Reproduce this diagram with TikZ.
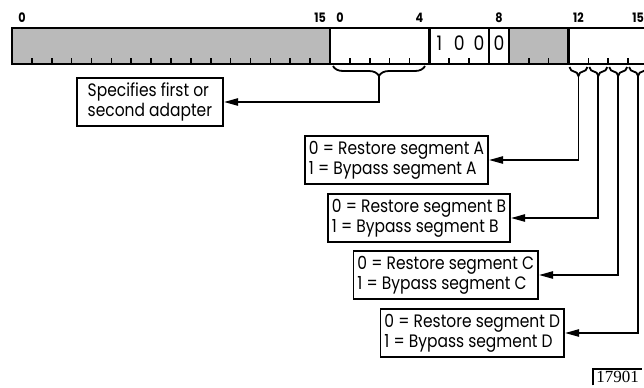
\documentclass[tikz,border=0pt]{standalone}
\usepackage{fontspec}
\setmainfont{Poppins}[FakeStretch=0.86]
\newfontfamily\fignofont{Liberation Serif}
\usetikzlibrary{arrows.meta, decorations.pathreplacing}
\newcommand{\boxfont}{\fontsize{9}{10}\selectfont}
\newcommand{\bitfont}{\fontsize{6.5}{7}\selectfont\bfseries}
\newcommand{\bitw}{19.875}
\tikzset{
    field/.style={draw, line width=1.2pt},
    shade/.style={fill=black!27},
    tick/.style={line width=0.8pt},
    digit/.style={font=\fontsize{10}{11}\selectfont, inner sep=0pt},
    bitno/.style={font=\bitfont, inner sep=0pt},
    box/.style={draw, line width=0.9pt, align=left, inner xsep=2pt, inner ysep=2.5pt, font=\boxfont},
    arrow/.style={-{Triangle[length=7pt,width=3.6pt]}, line width=0.9pt},
    brc/.style={decorate, decoration={brace, mirror, amplitude=#1}, line width=0.9pt},
    brc/.default=5pt
}

\begin{document}
\begin{tikzpicture}[x=0.5pt, y=-0.5pt]
    \clip (0,0) rectangle (644,387);
    % first word, all reserved
    \draw[field, shade] (12,28) rectangle (330,64);
    \foreach \i in {1,...,15}
        \draw[tick] ({12+\i*\bitw},64) -- ++(0,-6);
    % second word
    \fill[shade] ({330+9*\bitw},28) rectangle ({330+12*\bitw},64);
    \draw[field] (330,28) rectangle (648,64);
    \foreach \i in {5,8,9,12}
        \draw[field] ({330+\i*\bitw},28) -- ++(0,36);
    \foreach \i in {1,2,3,4,6,7,10,11,13,14,15}
        \draw[tick] ({330+\i*\bitw},64) -- ++(0,-6);
    \foreach \d/\v in {5/1,6/0,7/0,8/0}
        \node[digit] (dig\d) at ({330+(\d+0.5)*\bitw},43) {\v};

    % bit numbers
    \foreach \b in {0,15}
        \node[bitno] (hi\b) at ({12+(\b+0.5)*\bitw},18) {\b};
    \foreach \b in {0,4,8,12,15}
        \node[bitno] (lo\b) at ({330+(\b+0.5)*\bitw},18) {\b};

    % adapter field
    \draw[brc] (333,66) -- (425,66);
    \coordinate (adr) at (379,76);
    \node[box, inner xsep=5.5pt, anchor=east] (adapter) at (224,102) {Specifies first or\\second adapter};
    \draw[arrow] (adr) |- (adapter.east);

    % segment bits
    \foreach \s/\k in {A/12,B/13,C/14,D/15} {
        \draw[brc=4.5pt] ({330+\k*\bitw+1},67) -- ({330+(\k+1)*\bitw-1},67);
        \coordinate (tip\s) at ({330+(\k+0.5)*\bitw},76);
    }
    \foreach \s/\x/\y in {A/489/160, B/511/218, C/539/275, D/565/333}
        \node[box, anchor=east] (seg\s) at (\x,\y) {0 = Restore segment \s\\1 = Bypass segment \s};
    \foreach \s in {A,B,C,D}
        \draw[arrow] (tip\s) |- (seg\s.east);

    % figure number
    \node[anchor=north west, font=\fignofont\fontsize{8.5}{9}\selectfont, inner xsep=1.5pt, inner ysep=1pt] (figno) at (593,369) {17901\hspace{6pt}};
    \draw[line width=0.6pt] (figno.south west) -- (figno.north west) -- (figno.north east);
\end{tikzpicture}
\end{document}
